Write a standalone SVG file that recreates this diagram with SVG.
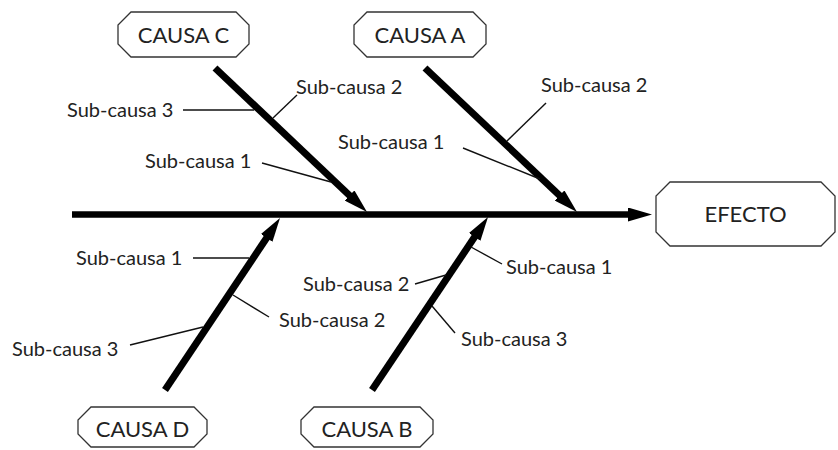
<svg xmlns="http://www.w3.org/2000/svg" width="838" height="450" viewBox="0 0 838 450">
  <style>
    .box { fill: #ffffff; stroke: #333333; stroke-width: 1.3; }
    .title { font-family: Lato, "Open Sans", "Liberation Sans", sans-serif; font-size: 22px; fill: #222222; text-anchor: middle; }
    .label { font-family: Lato, "Open Sans", "Liberation Sans", sans-serif; font-size: 20px; fill: #222222; }
    .bone { stroke: #000000; stroke-width: 7; fill: none; marker-end: url(#head); }
    .spine { stroke: #000000; stroke-width: 6.5; fill: none; marker-end: url(#head); }
    .twig { stroke: #111111; stroke-width: 1.4; fill: none; }
  </style>
  <defs>
    <!-- solid triangular head; tip sits 16px past the line end -->
    <marker id="head" markerUnits="userSpaceOnUse" markerWidth="24" markerHeight="14" refX="8" refY="7" orient="auto">
      <path d="M0,0 L24,7 L0,14 z" fill="#000000"/>
    </marker>
  </defs>
  <rect width="838" height="450" fill="#ffffff"/>

  <!-- spine, bones and sub-cause leaders -->
  <g id="connectors">
    <line class="spine" x1="72" y1="214.5" x2="636" y2="214.5"/>
    <line class="bone" x1="215" y1="68" x2="355.4" y2="201"/>
    <line class="bone" x1="425" y1="68" x2="565.4" y2="201"/>
    <line class="bone" x1="165" y1="390" x2="271.1" y2="231.3"/>
    <line class="bone" x1="372" y1="390" x2="479.1" y2="230.3"/>

    <line class="twig" x1="183" y1="110" x2="254" y2="110"/>
    <line class="twig" x1="297" y1="95" x2="273" y2="118"/>
    <line class="twig" x1="262" y1="163" x2="331" y2="182"/>
    <line class="twig" x1="546" y1="103" x2="507" y2="141"/>
    <line class="twig" x1="463" y1="148" x2="540" y2="179"/>
    <line class="twig" x1="193" y1="258" x2="249" y2="258"/>
    <line class="twig" x1="269" y1="317" x2="233" y2="295"/>
    <line class="twig" x1="130" y1="345" x2="203" y2="327"/>
    <line class="twig" x1="415" y1="284" x2="446" y2="275"/>
    <line class="twig" x1="502" y1="264" x2="471" y2="247"/>
    <line class="twig" x1="455" y1="333" x2="432" y2="306"/>
  </g>

  <g id="labels">
    <text class="label" x="67" y="117">Sub-causa 3</text>
    <text class="label" x="296" y="94">Sub-causa 2</text>
    <text class="label" x="145" y="168">Sub-causa 1</text>
    <text class="label" x="541" y="92">Sub-causa 2</text>
    <text class="label" x="338" y="149">Sub-causa 1</text>
    <text class="label" x="76" y="265">Sub-causa 1</text>
    <text class="label" x="279" y="327">Sub-causa 2</text>
    <text class="label" x="12" y="356">Sub-causa 3</text>
    <text class="label" x="303" y="291">Sub-causa 2</text>
    <text class="label" x="506" y="274">Sub-causa 1</text>
    <text class="label" x="461" y="346">Sub-causa 3</text>
  </g>

  <g id="causa-c">
    <polygon class="box" points="131,12 236,12 249,25 249,44 236,57 131,57 118,44 118,25"/>
    <text class="title" x="183.5" y="42.5">CAUSA C</text>
  </g>
  <g id="causa-a">
    <polygon class="box" points="367,12 473,12 486,25 486,44 473,57 367,57 354,44 354,25"/>
    <text class="title" x="420" y="42.5">CAUSA A</text>
  </g>
  <g id="causa-d">
    <polygon class="box" points="91,407 194,407 207,420 207,434 194,447 91,447 78,434 78,420"/>
    <text class="title" x="142.5" y="437">CAUSA D</text>
  </g>
  <g id="causa-b">
    <polygon class="box" points="314,407 420,407 433,420 433,434 420,447 314,447 301,434 301,420"/>
    <text class="title" x="367" y="437">CAUSA B</text>
  </g>
  <g id="efecto">
    <polygon class="box" points="670,182 821,182 835,196 835,232 821,246 670,246 656,232 656,196"/>
    <text class="title" x="745.5" y="222">EFECTO</text>
  </g>
</svg>
